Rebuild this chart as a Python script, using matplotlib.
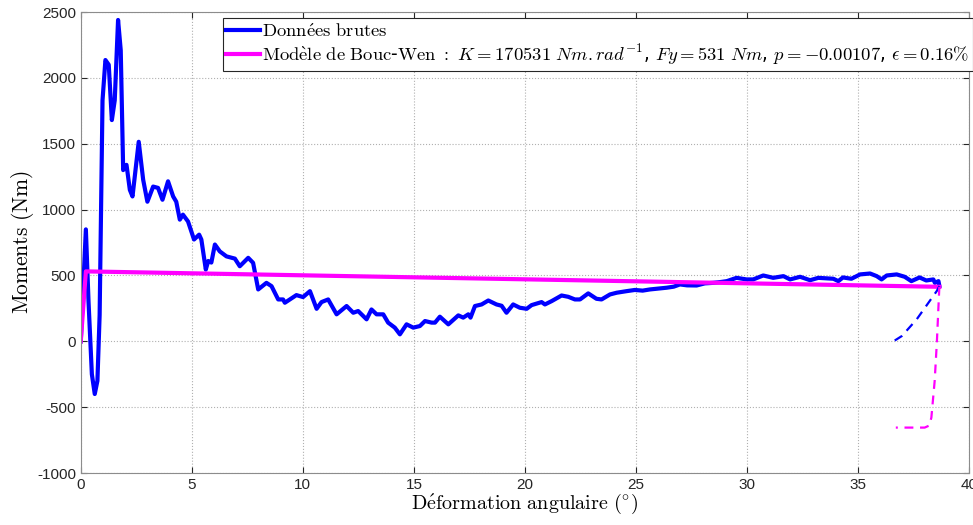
import numpy as np
import matplotlib.pyplot as plt

plt.rcParams['mathtext.fontset'] = 'cm'
plt.rcParams['axes.unicode_minus'] = False

# Raw measured data (degrees, Nm)
raw_x = [0, 0.23, 0.35, 0.5, 0.63, 0.75, 0.85, 0.98, 1.11, 1.26, 1.4, 1.53, 1.68, 1.8,
         1.91, 2.06, 2.21, 2.33, 2.61, 2.81, 3.0, 3.26, 3.48, 3.68, 3.93, 4.16, 4.3,
         4.46, 4.6, 4.83, 5.1, 5.33, 5.43, 5.63, 5.74, 5.88, 6.04, 6.26, 6.56, 6.94,
         7.16, 7.54, 7.76, 7.99, 8.36, 8.59, 8.89, 9.11, 9.19, 9.71, 10.01, 10.32,
         10.62, 10.84, 11.14, 11.52, 11.97, 12.27, 12.49, 12.87, 13.09, 13.32, 13.62,
         13.84, 14.14, 14.37, 14.67, 14.97, 15.27, 15.5, 15.8, 15.95, 16.17, 16.55,
         17.0, 17.22, 17.45, 17.55, 17.75, 18.05, 18.35, 18.72, 18.95, 19.17, 19.47,
         19.77, 20.08, 20.3, 20.75, 20.9, 21.2, 21.65, 21.95, 22.25, 22.48, 22.85,
         23.22, 23.45, 23.83, 24.13, 24.58, 24.95, 25.3, 25.63, 26.0, 26.38, 26.7,
         26.98, 27.3, 27.73, 28.1, 28.48, 28.8, 29.09, 29.53, 29.98, 30.28, 30.73,
         31.18, 31.64, 31.94, 32.39, 32.84, 33.21, 33.6, 33.89, 34.11, 34.32, 34.7,
         35.09, 35.54, 35.84, 36.06, 36.29, 36.74, 37.1, 37.4, 37.77, 38.07, 38.39,
         38.46, 38.62, 38.66]
raw_y = [0, 850, 300, -250, -400, -300, 200, 1830, 2136, 2100, 1680, 1830, 2440, 2210,
         1300, 1340, 1150, 1100, 1515, 1227, 1060, 1175, 1165, 1075, 1215, 1100, 1060,
         924, 962, 910, 773, 810, 773, 545, 610, 598, 735, 683, 645, 628,
         570, 634, 596, 394, 444, 419, 318, 318, 293, 351, 336, 381,
         247, 298, 318, 205, 268, 217, 230, 167, 242, 205, 205,
         142, 104, 53, 129, 104, 116, 154, 142, 142, 187, 129,
         197, 180, 205, 180, 268, 280, 310, 280, 270, 217, 280,
         255, 247, 275, 298, 280, 305, 348, 338, 318, 318, 364,
         323, 318, 356, 369, 381, 390, 385, 394, 400, 407, 415,
         432, 425, 424, 440, 444, 450, 457, 482, 470, 470, 500,
         482, 495, 470, 490, 464, 482, 478, 475, 457, 485, 475,
         508, 515, 495, 470, 500, 508, 490, 457, 485, 462, 470,
         444, 457, 420]

# Unloading branch of the raw data
raw_unload_x = [38.66, 38.54, 37.64, 36.97, 36.5]
raw_unload_y = [420, 381, 167, 40, -10]

# Bouc-Wen model
model_x = [0, 0.23, 38.66]
model_y = [0, 531, 414]
model_unload_x = [38.66, 38.55, 38.45, 38.3, 38.2, 38.0, 36.7]
model_unload_y = [414, 0, -300, -580, -640, -655, -655]

fig = plt.figure(figsize=(9.73, 5.25), dpi=100)
ax = fig.add_axes([0.083, 0.099, 0.913, 0.878])

ax.plot(raw_x, raw_y, color='#0000ff', lw=3,
        label=r'$\mathrm{Donn\acute{e}es\ brutes}$')
ax.plot(model_x, model_y, color='#ff00ff', lw=3,
        label=r'$\mathrm{Mod\grave{e}le\ de\ Bouc}$-$\mathrm{Wen\ :}\ K = 170531\ Nm.rad^{-1}$, '
              r'$Fy = 531\ Nm$, $p = -0.00107$, $\epsilon = 0.16\%$')
ax.plot(raw_unload_x, raw_unload_y, color='#0000ff', lw=1.6, ls=(0, (4, 3)))
ax.plot(model_unload_x, model_unload_y, color='#ff00ff', lw=1.6, ls=(0, (4, 3)))

ax.set_xlim(0, 40)
ax.set_ylim(-1000, 2500)
ax.set_xticks(np.arange(0, 41, 5))
ax.set_yticks(np.arange(-1000, 2501, 500))
ax.grid(True, ls=':', color='#b0b0b0', lw=0.8)
ax.tick_params(direction='in', top=True, right=True, labelsize=11,
               colors='#262626', length=4)
for lbl in ax.get_xticklabels() + ax.get_yticklabels():
    lbl.set_family('Liberation Sans')
for s in ax.spines.values():
    s.set_color('#8c8c8c')

ax.set_xlabel(r'$\mathrm{D\acute{e}formation\ angulaire\ (^{\circ})}$', fontsize=14.5, labelpad=0)
ax.set_ylabel(r'$\mathrm{Moments\ (Nm)}$', fontsize=15.5, labelpad=1)

leg = ax.legend(loc='upper right', bbox_to_anchor=(1.004, 0.987), borderaxespad=0,
                fontsize=13.4, fancybox=False, framealpha=1, edgecolor='#262626',
                handlelength=1.8, handletextpad=0.1, borderpad=0.2, labelspacing=0.1)
leg.get_frame().set_linewidth(0.8)

fig.savefig('out.png')
